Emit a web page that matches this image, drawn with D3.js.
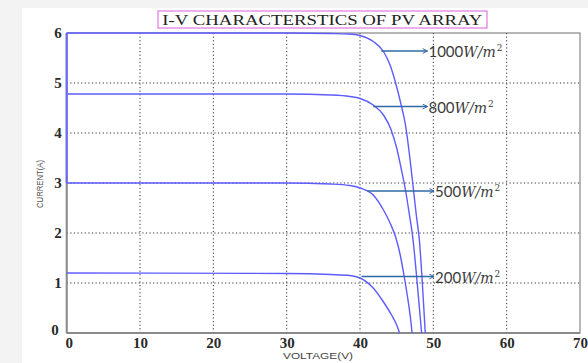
<!DOCTYPE html>
<html>
<head>
<meta charset="utf-8">
<script src="https://cdn.jsdelivr.net/npm/d3@7.9.0/dist/d3.min.js"></script>
<style>
  body { margin: 0; background: #f3f3f3; }
  svg { display: block; }
</style>
</head>
<body>
<svg id="iv-plot"></svg>
<script>
// Values (volts, amps)
const v1000 = [0, 30, 36, 38.5, 40, 41.8, 43.2, 44.1, 44.8, 45.5, 46.2, 46.8, 47.3, 47.7, 48.1, 48.5, 48.9];
const i1000 = [6.0, 6.0, 5.99, 5.98, 5.95, 5.83, 5.63, 5.36, 5.03, 4.63, 4.16, 3.5, 2.85, 2.33, 1.85, 1.0, 0];

const v800 = [0, 30, 36, 38.6, 40, 41.8, 43.2, 44.2, 45.0, 45.6, 46.2, 46.7, 47.2, 47.8, 48.4];
const i800 = [4.78, 4.78, 4.76, 4.73, 4.69, 4.56, 4.36, 4.08, 3.7, 3.3, 2.86, 2.4, 1.9, 1.0, 0];

const v500 = [0, 30, 36, 38.6, 40, 41.8, 43.2, 44.1, 44.9, 45.5, 46.0, 46.5, 46.9, 47.1];
const i500 = [3.0, 3.0, 2.98, 2.95, 2.9, 2.76, 2.46, 2.2, 1.9, 1.55, 1.15, 0.7, 0.28, 0];

const v200 = [0, 30, 36, 38.6, 40, 41.8, 43.2, 44.3, 45.0, 45.4];
const i200 = [1.2, 1.19, 1.17, 1.15, 1.1, 0.9, 0.62, 0.36, 0.16, 0];

// irradiance labels and where their arrows sit (data units)
const irradiance = ['1000', '800', '500', '200'];
const arrowFromV = [42.9, 41.8, 41.0, 40.2];
const arrowToV = [49.2, 49.2, 50.1, 50.1];
const arrowAtI = [5.64, 4.53, 2.84, 1.13];

const xTicks = [0, 10, 20, 30, 40, 50, 60, 70];
const yTicks = [0, 1, 2, 3, 4, 5, 6];

const width = 588;
const height = 363;
const margin = { top: 33, right: 8, bottom: 30, left: 66.7 };

const svg = d3.select('#iv-plot').attr('width', width).attr('height', height);

// white page area, light grey strip left and top like the screenshot
svg.append('rect').attr('x', 22).attr('y', 8).attr('width', width - 22).attr('height', height - 8).attr('fill', '#fff');

const xScale = d3.scaleLinear().domain([0, 70]).range([margin.left, width - margin.right]);
const yScale = d3.scaleLinear().domain([0, 6]).range([height - margin.bottom, margin.top]);

// dotted grid
const grid = svg.append('g').attr('stroke', '#333').attr('stroke-width', 1).attr('stroke-dasharray', '1.2,2.4');
grid.selectAll('line.gx')
  .data(xTicks.slice(1, -1))
  .join('line')
  .attr('x1', (d) => xScale(d)).attr('x2', (d) => xScale(d))
  .attr('y1', yScale(0)).attr('y2', yScale(6));
grid.selectAll('line.gy')
  .data(yTicks.slice(1, -1))
  .join('line')
  .attr('class', 'gy')
  .attr('x1', xScale(0)).attr('x2', xScale(70))
  .attr('y1', (d) => yScale(d)).attr('y2', (d) => yScale(d));

// frame
svg.append('rect')
  .attr('x', xScale(0)).attr('y', yScale(6))
  .attr('width', xScale(70) - xScale(0)).attr('height', yScale(0) - yScale(6))
  .attr('fill', 'none').attr('stroke', '#6f6f6f').attr('stroke-width', 1);
svg.append('line')
  .attr('x1', xScale(0)).attr('x2', xScale(70))
  .attr('y1', yScale(0)).attr('y2', yScale(0))
  .attr('stroke', '#8a8a8a').attr('stroke-width', 2);
svg.append('line')
  .attr('x1', xScale(0)).attr('x2', xScale(0))
  .attr('y1', yScale(0)).attr('y2', yScale(6))
  .attr('stroke', '#8a8a8a').attr('stroke-width', 2);

// axes (tick labels only)
const xAxis = d3.axisBottom(xScale).tickValues(xTicks).tickFormat(d3.format('d')).tickSize(0).tickPadding(4);
const yAxis = d3.axisLeft(yScale).tickValues(yTicks).tickFormat(d3.format('d')).tickSize(0).tickPadding(5);

const gx = svg.append('g').attr('transform', `translate(0, ${yScale(0)})`).call(xAxis);
const gy = svg.append('g').attr('transform', `translate(${xScale(0)}, 0)`).call(yAxis);
[gx, gy].forEach((g) => {
  g.select('.domain').remove();
  g.selectAll('text')
    .attr('font-family', '"Liberation Serif", "DejaVu Serif", serif')
    .attr('font-weight', 'bold')
    .attr('font-size', 15)
    .attr('fill', '#2a2a2a');
});
gy.selectAll('text').attr('dy', '0.3em');
gy.selectAll('.tick').filter((d) => d === 0).select('text').attr('dx', -3).attr('dy', '0.1em');
gx.selectAll('.tick').filter((d) => d === 0).select('text').attr('dx', 2);

// curves
const series = [
  { v: v1000, i: i1000 },
  { v: v800, i: i800 },
  { v: v500, i: i500 },
  { v: v200, i: i200 },
];
const line = d3.line()
  .x((d) => xScale(d[0]))
  .y((d) => yScale(d[1]))
  .curve(d3.curveMonotoneX);

svg.append('g')
  .selectAll('path')
  .data(series)
  .join('path')
  .attr('d', (s) => line(s.v.map((v, k) => [v, s.i[k]])))
  .attr('fill', 'none')
  .attr('stroke', '#5c5cff')
  .attr('stroke-width', 1.4);

// blue strip on the left edge between 3 A and 6 A
svg.append('line')
  .attr('x1', xScale(0)).attr('x2', xScale(0))
  .attr('y1', yScale(3)).attr('y2', yScale(6))
  .attr('stroke', '#6a6aff').attr('stroke-width', 2);

// arrows with labels
svg.append('defs').append('marker')
  .attr('id', 'head')
  .attr('viewBox', '0 0 10 10')
  .attr('refX', 9).attr('refY', 5)
  .attr('markerWidth', 6).attr('markerHeight', 6)
  .attr('markerUnits', 'userSpaceOnUse')
  .attr('orient', 'auto')
  .append('path')
  .attr('d', 'M1,1 L9,5 L1,9')
  .attr('fill', 'none')
  .attr('stroke', '#2f6aa6')
  .attr('stroke-width', 1.6);

const notes = svg.append('g');
irradiance.forEach((label, k) => {
  const y = yScale(arrowAtI[k]);
  notes.append('line')
    .attr('x1', xScale(arrowFromV[k])).attr('x2', xScale(arrowToV[k]))
    .attr('y1', y).attr('y2', y)
    .attr('stroke', '#2f6aa6').attr('stroke-width', 1.5)
    .attr('marker-end', 'url(#head)');
  const t = notes.append('text')
    .attr('x', xScale(arrowToV[k]) + 1)
    .attr('y', y + 6)
    .attr('font-size', 15)
    .attr('fill', '#3b3b3b');
  t.append('tspan').attr('font-family', 'Lato, "Open Sans", sans-serif').text(label);
  t.append('tspan').attr('font-family', '"DejaVu Serif", serif').attr('font-style', 'italic').attr('font-size', 14).text('W/m');
  t.append('tspan').attr('font-family', '"DejaVu Serif", serif').attr('font-size', 9).attr('dx', 1).attr('dy', -6).text('2');
});

// title
const titleX = (xScale(0) + xScale(70)) / 2;
svg.append('rect')
  .attr('x', 158).attr('y', 11)
  .attr('width', 329).attr('height', 17)
  .attr('fill', '#fff')
  .attr('stroke', '#e07be0').attr('stroke-width', 1.2);
svg.append('text')
  .attr('x', titleX - 1).attr('y', 25)
  .attr('text-anchor', 'middle')
  .attr('font-family', '"Liberation Serif", "DejaVu Serif", serif')
  .attr('font-size', 15)
  .attr('fill', '#222')
  .attr('textLength', 320)
  .attr('lengthAdjust', 'spacingAndGlyphs')
  .text('I-V CHARACTERSTICS OF PV ARRAY');

// axis titles
svg.append('text')
  .attr('x', 318).attr('y', 359)
  .attr('text-anchor', 'middle')
  .attr('font-family', '"Liberation Sans", Arial, sans-serif')
  .attr('font-size', 9)
  .attr('fill', '#444')
  .attr('textLength', 70)
  .attr('lengthAdjust', 'spacingAndGlyphs')
  .text('VOLTAGE(V)');
svg.append('text')
  .attr('transform', 'translate(43, 184) rotate(-90)')
  .attr('text-anchor', 'middle')
  .attr('font-family', '"Liberation Sans", Arial, sans-serif')
  .attr('font-size', 9)
  .attr('fill', '#555')
  .attr('textLength', 48)
  .attr('lengthAdjust', 'spacingAndGlyphs')
  .text('CURRENT(A)');
</script>
</body>
</html>
